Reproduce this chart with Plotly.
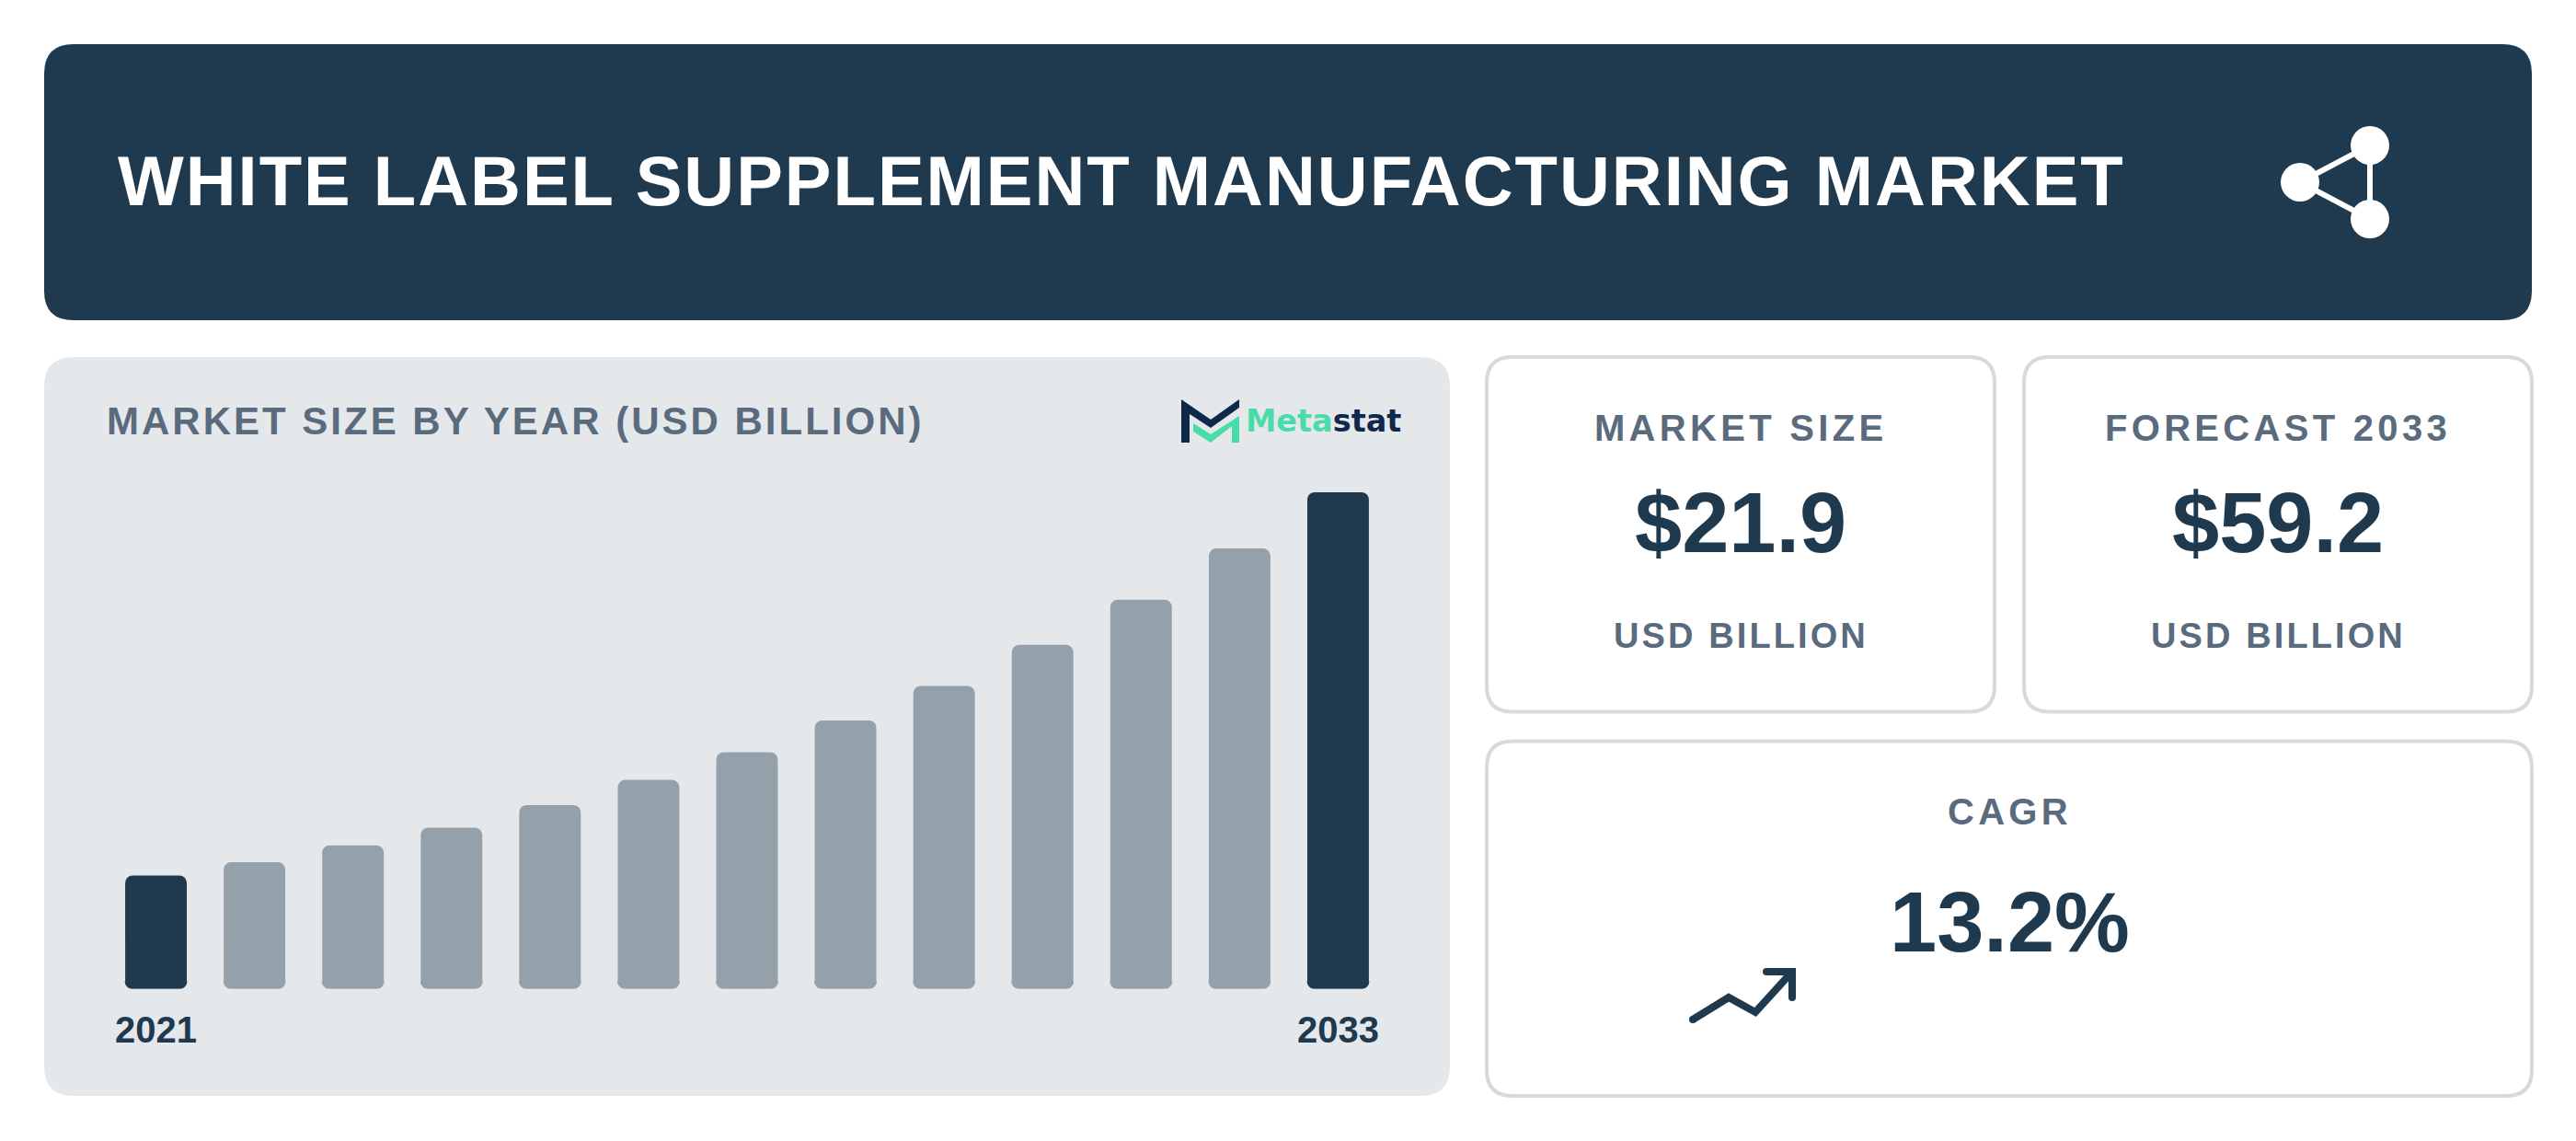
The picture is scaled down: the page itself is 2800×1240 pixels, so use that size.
#!/usr/bin/env python3
import numpy as np
import plotly.graph_objects as go

years = ["2021", "2022", "2023", "2024", "2025", "2026", "2027", "2028", "2029", "2030", "2031", "2032", "2033"]
market_size = [13.5, 15.1, 17.1, 19.2, 21.9, 24.9, 28.2, 32.0, 36.1, 41.0, 46.4, 52.5, 59.2]
shown_years = ["2021", "2033"]

title_text = "WHITE LABEL SUPPLEMENT MANUFACTURING MARKET"
chart_title = "MARKET SIZE BY YEAR (USD BILLION)"
cards = [
    ("MARKET SIZE", "$21.9", "USD BILLION", 1892),
    ("FORECAST 2033", "$59.2", "USD BILLION", 2476),
]

DARK = "#1f3a4e"
GREY = "#94a1ab"
SLATE = "#5a6b7e"
PANEL = "#e5e8eb"
BORDER = "#d6dadd"
GREEN = "#4adbab"
NAVY = "#10294a"
FONT = "Liberation Sans"

# the page keeps the browser's 8px body margin
W, H, PAD = 2800, 1240, 8


def px(x):
    return (x - PAD) / (W - 2 * PAD)


def py(y):
    return 1 - (y - PAD) / (H - 2 * PAD)


def poly(points, close=False):
    d = "M " + " L ".join(f"{px(x):.5f},{py(y):.5f}" for x, y in points)
    return d + (" Z" if close else "")


def round_rect(x0, y0, x1, y1, r):
    return (
        f"M {px(x0 + r):.5f},{py(y0):.5f} L {px(x1 - r):.5f},{py(y0):.5f} "
        f"Q {px(x1):.5f},{py(y0):.5f} {px(x1):.5f},{py(y0 + r):.5f} "
        f"L {px(x1):.5f},{py(y1 - r):.5f} Q {px(x1):.5f},{py(y1):.5f} {px(x1 - r):.5f},{py(y1):.5f} "
        f"L {px(x0 + r):.5f},{py(y1):.5f} Q {px(x0):.5f},{py(y1):.5f} {px(x0):.5f},{py(y1 - r):.5f} "
        f"L {px(x0):.5f},{py(y0 + r):.5f} Q {px(x0):.5f},{py(y0):.5f} {px(x0 + r):.5f},{py(y0):.5f} Z"
    )


def card(x0, y0, x1, y1, r=28):
    return dict(type="path", path=round_rect(x0, y0, x1, y1, r), fillcolor="white",
                line=dict(color=BORDER, width=4), xref="paper", yref="paper", layer="below")


def panel(x0, y0, x1, y1, color, r=32):
    return dict(type="path", path=round_rect(x0, y0, x1, y1, r), fillcolor=color,
                line=dict(width=0), xref="paper", yref="paper", layer="below")


def stroke(points, color, width):
    return dict(type="path", path=poly(points), line=dict(color=color, width=width),
                xref="paper", yref="paper", layer="above")


def dot(cx, cy, r, color):
    return dict(type="circle", x0=px(cx - r), x1=px(cx + r), y0=py(cy + r), y1=py(cy - r),
                fillcolor=color, line=dict(width=0), xref="paper", yref="paper", layer="above")


def fill(points, color):
    return dict(type="path", path=poly(points, True), fillcolor=color, line=dict(width=0),
                xref="paper", yref="paper", layer="above")


def label(x, y, text, size, color, spacing=0, anchor="center", family=FONT):
    return dict(x=px(x), y=py(y), xref="paper", yref="paper", showarrow=False, xanchor=anchor,
                yanchor="middle", font=dict(family=family, size=size, color=color),
                text=f"<b><span style='letter-spacing:{spacing}px'>{text}</span></b>")


shapes = [
    panel(48, 48, 2752, 348, DARK),
    panel(48, 388, 1576, 1191, PANEL),
    card(1616, 388, 2168, 773.5),
    card(2200, 388, 2752, 773.5),
    card(1616, 805.5, 2752, 1191),
    # share icon
    stroke([(2576, 158), (2500, 198), (2576, 238)], "white", 6),
    stroke([(2576, 158), (2576, 238)], "white", 6),
    dot(2576, 158, 21, "white"),
    dot(2500, 198, 21, "white"),
    dot(2576, 238, 21, "white"),
    # trend arrow
    stroke([(1840, 1108), (1879, 1084), (1908, 1100), (1948, 1056)], DARK, 8),
    stroke([(1920, 1056), (1948, 1056), (1948, 1084)], DARK, 8),
    dot(1840, 1108, 4, DARK),
    dot(1920, 1056, 4, DARK),
    dot(1948, 1084, 4, DARK),
    dot(1948, 1056, 4, DARK),
    # logo
    fill([(1284, 434), (1316, 456), (1347, 434), (1347, 443), (1316, 465), (1293, 450), (1293, 481), (1284, 481)], NAVY),
    fill([(1297, 460), (1316, 472), (1347, 452), (1347, 481), (1339, 481), (1339, 463), (1316, 481), (1297, 469)], GREEN),
]

annotations = [
    label(126, 196, title_text, 76, "white", 1.97, "left"),
    label(114, 457, chart_title, 42, SLATE, 3.0, "left"),
    dict(x=px(1352), y=py(457), xref="paper", yref="paper", showarrow=False, xanchor="left", yanchor="middle",
         font=dict(family="DejaVu Sans", size=33.5),
         text=f"<b><span style='color:{GREEN}'>Meta</span><span style='color:{NAVY}'>stat</span></b>"),
    label(2184, 882, "CAGR", 40, SLATE, 4.3),
    label(2184, 1002, "13.2%", 92, DARK),
]
for top, value, unit, cx in cards:
    annotations.append(label(cx, 465, top, 40, SLATE, 4.3))
    annotations.append(label(cx, 568, value, 92, DARK))
    annotations.append(label(cx, 691, unit, 38, SLATE, 3.1))

# upper piece rounds the top, the lower one the foot; the axis is shifted by foot
foot = 0.9
values = np.array(market_size)
colors = [DARK if y in shown_years else GREY for y in years]

fig = go.Figure()
fig.add_trace(go.Bar(x=years, y=values - foot, width=0.625,
                     marker=dict(color=colors, cornerradius=8, line=dict(width=0))))
# thin outline hides the seam between the two pieces
fig.add_trace(go.Bar(x=years, y=[-foot] * len(years), width=0.625,
                     marker=dict(color=colors, cornerradius=8, line=dict(width=1, color=colors))))

fig.update_layout(
    width=W - 2 * PAD,
    height=H - 2 * PAD,
    margin=dict(l=0, r=0, t=0, b=0),
    paper_bgcolor="white",
    plot_bgcolor="rgba(0,0,0,0)",
    barmode="overlay",
    showlegend=False,
    shapes=shapes,
    annotations=annotations,
    xaxis=dict(
        domain=[px(116), px(1508)], type="category", categoryorder="array", categoryarray=years,
        tickmode="array", tickvals=shown_years, ticktext=[f"<b>{y}</b>" for y in shown_years],
        tickfont=dict(family=FONT, size=40, color=DARK), ticklen=0, ticklabelstandoff=17,
        showgrid=False, zeroline=False, showline=False, anchor="free", position=py(1074.5),
    ),
    yaxis=dict(domain=[py(1074.5), py(535)], range=[-foot, 59.2 - foot], visible=False),
)

fig.write_html("out.html")
